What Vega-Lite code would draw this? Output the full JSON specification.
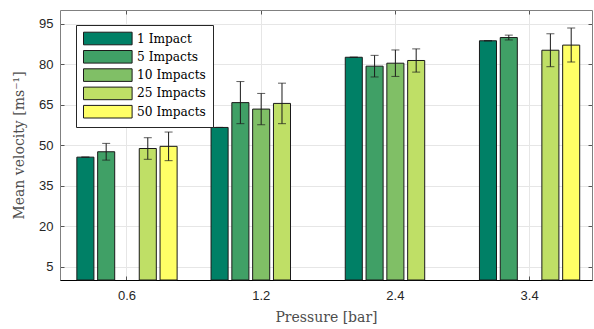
{
  "$schema": "https://vega.github.io/schema/vega-lite/v6.json",
  "width": 532,
  "height": 270,
  "autosize": "none",
  "padding": {"left": 60, "top": 10, "right": 2, "bottom": 49},
  "background": "white",
  "config": {
    "view": {"stroke": "#808080", "strokeWidth": 1},
    "axis": {
      "labelFont": "Liberation Sans",
      "labelFontSize": 13,
      "labelColor": "#262626",
      "titleFont": "DejaVu Serif",
      "titleFontSize": 14,
      "titleFontWeight": "normal",
      "titleColor": "#4d4d4d",
      "gridColor": "#e6e6e6",
      "gridWidth": 1,
      "tickColor": "#555555",
      "tickSize": -4
    }
  },
  "data": {
    "values": [
      {"pressure": "0.6", "impact": "1 Impact", "mean": 45.5, "lo": 45.5, "hi": 45.5},
      {"pressure": "0.6", "impact": "5 Impacts", "mean": 47.5, "lo": 44.4, "hi": 50.6},
      {"pressure": "0.6", "impact": "25 Impacts", "mean": 48.7, "lo": 44.7, "hi": 52.7},
      {"pressure": "0.6", "impact": "50 Impacts", "mean": 49.5, "lo": 44.2, "hi": 54.8},
      {"pressure": "1.2", "impact": "1 Impact", "mean": 56.5, "lo": 56.5, "hi": 56.5},
      {"pressure": "1.2", "impact": "5 Impacts", "mean": 65.7, "lo": 57.9, "hi": 73.5},
      {"pressure": "1.2", "impact": "10 Impacts", "mean": 63.3, "lo": 57.5, "hi": 69.1},
      {"pressure": "1.2", "impact": "25 Impacts", "mean": 65.4, "lo": 57.9, "hi": 72.9},
      {"pressure": "2.4", "impact": "1 Impact", "mean": 82.5, "lo": 82.5, "hi": 82.5},
      {"pressure": "2.4", "impact": "5 Impacts", "mean": 79.2, "lo": 75.2, "hi": 83.2},
      {"pressure": "2.4", "impact": "10 Impacts", "mean": 80.3, "lo": 75.4, "hi": 85.2},
      {"pressure": "2.4", "impact": "25 Impacts", "mean": 81.3, "lo": 77.0, "hi": 85.6},
      {"pressure": "3.4", "impact": "1 Impact", "mean": 88.6, "lo": 88.6, "hi": 88.6},
      {"pressure": "3.4", "impact": "5 Impacts", "mean": 89.8, "lo": 88.9, "hi": 90.7},
      {"pressure": "3.4", "impact": "25 Impacts", "mean": 85.1, "lo": 79.0, "hi": 91.2},
      {"pressure": "3.4", "impact": "50 Impacts", "mean": 87.0, "lo": 80.7, "hi": 93.3}
    ]
  },
  "resolve": {"axis": {"x": "independent", "y": "independent"}},
  "layer": [
    {
      "mark": {"type": "bar", "stroke": "#1a1a1a", "strokeWidth": 1},
      "encoding": {
        "x": {
          "field": "pressure", "type": "nominal",
          "sort": ["0.6", "1.2", "2.4", "3.4"],
          "scale": {"domain": ["0.6", "1.2", "2.4", "3.4"], "paddingInner": 0.225, "paddingOuter": 0.0946, "align": 0.59},
          "axis": {"title": "Pressure [bar]", "orient": "bottom", "labelAngle": 0, "bandPosition": 0.5, "grid": true, "domainColor": "#000000", "domainWidth": 1, "labelPadding": 13, "titlePadding": 8}
        },
        "xOffset": {
          "field": "impact", "type": "nominal",
          "scale": {"domain": ["1 Impact", "5 Impacts", "10 Impacts", "25 Impacts", "50 Impacts"], "paddingInner": 0.18, "paddingOuter": 0.09}
        },
        "y": {
          "field": "mean", "type": "quantitative",
          "scale": {"domain": [0, 100], "nice": false, "zero": true},
          "axis": {"title": "Mean velocity [ms⁻¹]", "orient": "left", "values": [5, 20, 35, 50, 65, 80, 95], "grid": true, "domain": false, "labelPadding": 11, "titlePadding": 12}
        },
        "color": {
          "field": "impact", "type": "nominal",
          "scale": {"domain": ["1 Impact", "5 Impacts", "10 Impacts", "25 Impacts", "50 Impacts"], "range": ["#008066", "#40A066", "#80BF66", "#BFDF66", "#FFFF66"]},
          "legend": {
            "title": null, "orient": "none", "legendX": 16, "legendY": 15,
            "strokeColor": "#262626", "fillColor": "white", "padding": 7,
            "rowPadding": 1.3,
            "symbolType": "M-1,-1.05H7.1V1.05H-1Z", "symbolSize": 144,
            "symbolStrokeColor": "#1a1a1a", "symbolStrokeWidth": 1, "symbolOpacity": 1,
            "labelOffset": 41, "labelFont": "DejaVu Serif", "labelFontSize": 12.2, "labelColor": "#000000"
          }
        }
      }
    },
    {
      "mark": {"type": "rule", "color": "#1a1a1a", "strokeWidth": 1},
      "encoding": {
        "x": {"field": "pressure", "type": "nominal", "axis": {"orient": "top", "labels": false, "domain": false, "grid": false, "title": null, "bandPosition": 0.5}},
        "xOffset": {"field": "impact", "type": "nominal"},
        "y": {"field": "lo", "type": "quantitative", "axis": {"orient": "right", "labels": false, "domain": false, "grid": false, "title": null, "values": [5, 20, 35, 50, 65, 80, 95]}},
        "y2": {"field": "hi"}
      }
    },
    {
      "mark": {"type": "tick", "color": "#1a1a1a", "thickness": 1, "size": 8},
      "encoding": {
        "x": {"field": "pressure", "type": "nominal", "axis": null},
        "xOffset": {"field": "impact", "type": "nominal"},
        "y": {"field": "lo", "type": "quantitative", "axis": null}
      }
    },
    {
      "mark": {"type": "tick", "color": "#1a1a1a", "thickness": 1, "size": 8},
      "encoding": {
        "x": {"field": "pressure", "type": "nominal", "axis": null},
        "xOffset": {"field": "impact", "type": "nominal"},
        "y": {"field": "hi", "type": "quantitative", "axis": null}
      }
    }
  ]
}
